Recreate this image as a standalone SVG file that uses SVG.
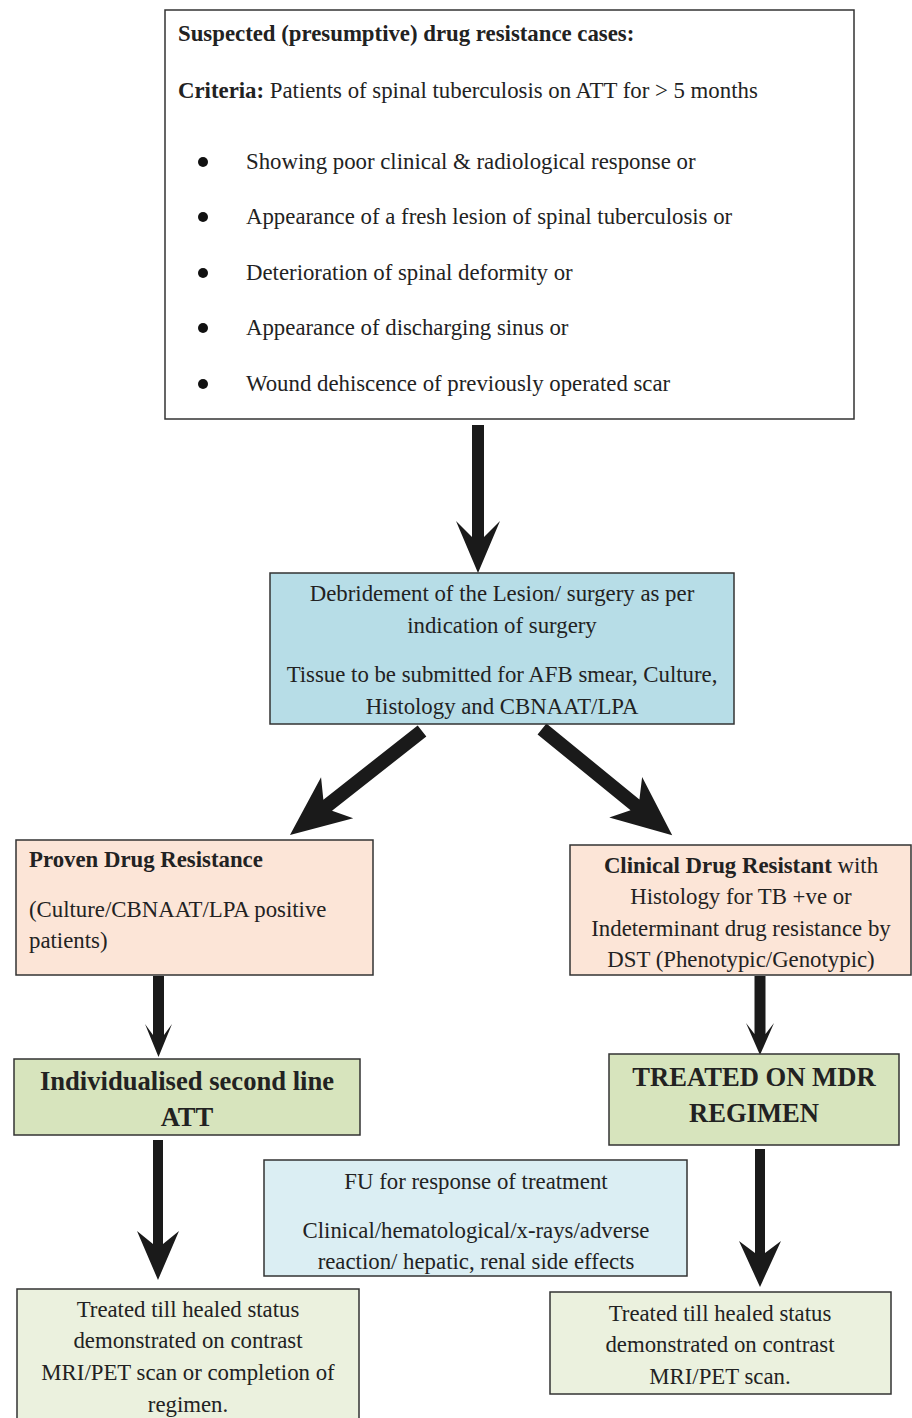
<svg xmlns="http://www.w3.org/2000/svg" width="912" height="1418" viewBox="0 0 912 1418">
<style>
text{font-family:"Liberation Serif","Times New Roman",serif;fill:#222;font-size:22.8px}
.b{font-weight:bold}
.c{text-anchor:middle}
.big{font-size:26.6px;font-weight:bold}
.box{stroke:#333;stroke-width:1.5}
.arr{fill:#1a1a1a}
</style>
<rect width="912" height="1418" fill="#fff"/>
<g id="connectors">
<polygon class="arr" points="472,425 484,425 484,537 500,521 478,573 456,521 472,537"/>
<polygon class="arr" transform="translate(422,731) rotate(141.8)" points="0,-7 120,-7 108,-26 168,0 108,26 120,7 0,7"/>
<polygon class="arr" transform="translate(542,729) rotate(39.2)" points="0,-7 120,-7 108,-26 168,0 108,26 120,7 0,7"/>
<polygon class="arr" points="153,976 164,976 164,1035 172,1024 158.5,1057 145,1024 153,1035"/>
<polygon class="arr" points="754.5,976 765.5,976 765.5,1034 774,1023 760,1055 746,1023 754.5,1034"/>
<polygon class="arr" points="153,1140 163,1140 163,1244 179,1231 158,1280 137,1231 153,1244"/>
<polygon class="arr" points="755,1149 765,1149 765,1253 781,1241 760,1287 739,1241 755,1253"/>
</g>
<g id="suspected">
<rect class="box" x="165" y="10" width="689" height="409" fill="#fff"/>
<text class="b" x="178" y="41">Suspected (presumptive) drug resistance cases:</text>
<text x="178" y="98"><tspan class="b">Criteria:</tspan> Patients of spinal tuberculosis on ATT for &gt; 5 months</text>
<circle cx="203" cy="162" r="5" fill="#111"/>
<circle cx="203" cy="217" r="5" fill="#111"/>
<circle cx="203" cy="273" r="5" fill="#111"/>
<circle cx="203" cy="328" r="5" fill="#111"/>
<circle cx="203" cy="384" r="5" fill="#111"/>
<text x="246" y="169">Showing poor clinical &amp; radiological response or</text>
<text x="246" y="224">Appearance of a fresh lesion of spinal tuberculosis or</text>
<text x="246" y="280">Deterioration of spinal deformity or</text>
<text x="246" y="335">Appearance of discharging sinus or</text>
<text x="246" y="391">Wound dehiscence of previously operated scar</text>
</g>
<g id="debridement">
<rect class="box" x="270" y="573" width="464" height="151" fill="#b7dde7"/>
<text class="c" x="502" y="601">Debridement of the Lesion/ surgery as per</text>
<text class="c" x="502" y="633">indication of surgery</text>
<text class="c" x="502" y="682">Tissue to be submitted for AFB smear, Culture,</text>
<text class="c" x="502" y="714">Histology and CBNAAT/LPA</text>
</g>
<g id="proven">
<rect class="box" x="16" y="840" width="357" height="135" fill="#fce5d7"/>
<text class="b" x="29" y="867">Proven Drug Resistance</text>
<text x="29" y="917">(Culture/CBNAAT/LPA positive</text>
<text x="29" y="948">patients)</text>
</g>
<g id="clinical">
<rect class="box" x="570" y="845" width="341" height="130" fill="#fce5d7"/>
<text class="c" x="741" y="873"><tspan class="b">Clinical Drug Resistant</tspan> with</text>
<text class="c" x="741" y="904">Histology for TB +ve or</text>
<text class="c" x="741" y="936">Indeterminant drug resistance by</text>
<text class="c" x="741" y="967">DST (Phenotypic/Genotypic)</text>
</g>
<g id="second-line">
<rect class="box" x="14" y="1059" width="346" height="76" fill="#d7e4bd"/>
<text class="c big" x="187" y="1090">Individualised second line</text>
<text class="c big" x="187" y="1126">ATT</text>
</g>
<g id="mdr">
<rect class="box" x="609" y="1054" width="290" height="91" fill="#d7e4bd"/>
<text class="c big" x="754" y="1086">TREATED ON MDR</text>
<text class="c big" x="754" y="1122">REGIMEN</text>
</g>
<g id="fu">
<rect class="box" x="264" y="1160" width="423" height="116" fill="#dbeef3"/>
<text class="c" x="476" y="1189">FU for response of treatment</text>
<text class="c" x="476" y="1238">Clinical/hematological/x-rays/adverse</text>
<text class="c" x="476" y="1269">reaction/ hepatic, renal side effects</text>
</g>
<g id="healed-left">
<rect class="box" x="17" y="1289" width="342" height="140" fill="#ebf1de"/>
<text class="c" x="188" y="1317">Treated till healed status</text>
<text class="c" x="188" y="1348">demonstrated on contrast</text>
<text class="c" x="188" y="1380">MRI/PET scan or completion of</text>
<text class="c" x="188" y="1412">regimen.</text>
</g>
<g id="healed-right">
<rect class="box" x="550" y="1292" width="341" height="102" fill="#ebf1de"/>
<text class="c" x="720" y="1321">Treated till healed status</text>
<text class="c" x="720" y="1352">demonstrated on contrast</text>
<text class="c" x="720" y="1384">MRI/PET scan.</text>
</g>
</svg>
